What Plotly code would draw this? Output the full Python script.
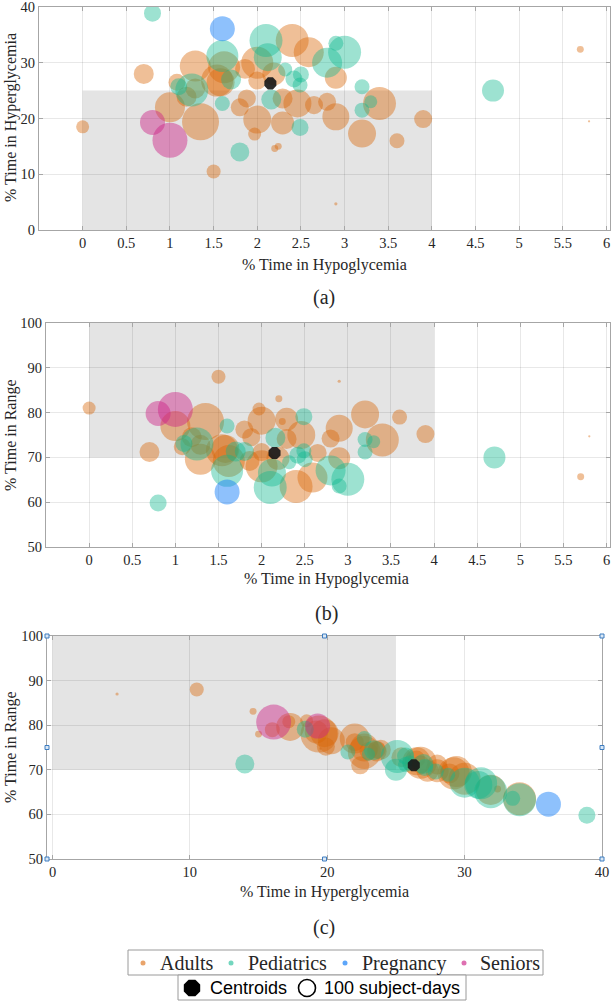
import plotly.graph_objects as go

W, H = 612, 1003

# ---------------- data ----------------
# Adults
adult_hypo = [0.00, 0.70, 1.00, 1.35, 1.29, 1.08, 1.29, 1.19, 1.54, 1.62, 1.58, 1.80, 1.88,
              1.86, 2.00, 2.00, 2.19, 2.00, 1.97, 1.50, 2.20, 2.24, 2.90, 2.29, 2.46, 2.29,
              2.65, 2.80, 2.90, 2.90, 2.40, 2.59, 3.20, 3.40, 3.60, 3.90, 5.70, 5.80]
adult_hyper = [18.5, 28.0, 22.0, 19.4, 29.4, 26.5, 25.4, 23.9, 26.8, 29.2, 26.5, 22.0, 23.6,
               28.9, 30.0, 26.8, 28.0, 19.8, 17.2, 10.5, 14.6, 15.0, 4.7, 23.6, 22.7, 19.2,
               22.4, 23.0, 20.3, 27.3, 34.0, 31.9, 17.3, 22.7, 16.0, 19.9, 32.4, 19.5]
adult_tir = [81.0, 71.2, 77.0, 78.0, 69.6, 72.4, 72.8, 74.5, 71.6, 69.2, 71.9, 76.2, 74.5,
             69.2, 68.0, 71.2, 69.8, 78.2, 80.8, 88.0, 83.1, 78.0, 87.0, 74.1, 75.0, 78.5,
             71.0, 74.2, 76.5, 69.8, 63.5, 65.5, 79.6, 73.9, 79.0, 75.2, 65.7, 74.7]
adult_days = [66, 156, 352, 535, 375, 113, 156, 156, 400, 400, 306, 127, 127,
              156, 400, 127, 207, 306, 66, 77, 19, 19, 4, 156, 306, 207,
              127, 127, 285, 189, 425, 352, 306, 425, 88, 127, 19, 2]

# Pediatrics
ped_hypo = [0.80, 1.60, 2.10, 2.12, 2.90, 3.00, 2.80, 1.70, 2.32, 2.42, 2.50, 2.49, 1.25,
            1.10, 1.60, 1.80, 2.16, 2.49, 3.20, 3.20, 3.30, 4.70]
ped_hyper = [38.9, 31.2, 34.0, 31.0, 33.5, 31.9, 30.0, 27.0, 28.8, 27.1, 27.9, 26.0, 25.1,
             25.7, 22.7, 14.0, 23.4, 18.4, 25.7, 21.5, 23.0, 25.0]
ped_tir = [59.8, 67.0, 63.3, 66.6, 63.6, 65.1, 67.1, 71.3, 68.9, 70.5, 69.6, 71.5, 73.0,
           73.1, 77.0, 71.3, 74.4, 79.1, 71.2, 74.0, 73.5, 70.0]
ped_days = [113, 400, 425, 306, 88, 425, 352, 156, 77, 113, 100, 88, 425,
            113, 88, 141, 156, 113, 88, 88, 66, 189]

# Pregnancy
preg_hypo = [1.60]
preg_hyper = [36.1]
preg_tir = [62.3]
preg_days = [244]

# Seniors
sen_hypo = [0.80, 1.00]
sen_hyper = [19.3, 16.1]
sen_tir = [79.8, 80.7]
sen_days = [244, 478]

# Centroid of all studies
cen_hypo = [2.15]
cen_hyper = [26.3]
cen_tir = [71.0]

# Target zones
HYPO_TARGET = 4
HYPER_TARGET = 25
TIR_TARGET = 70

# Tick labels
hypo_ticks = [0, 0.5, 1, 1.5, 2, 2.5, 3, 3.5, 4, 4.5, 5, 5.5, 6]
hyper_ticks_a = [0, 10, 20, 30, 40]
tir_ticks = [50, 60, 70, 80, 90, 100]
hyper_ticks_c = [0, 10, 20, 30, 40]

group_names = ["Adults", "Pediatrics", "Pregnancy", "Seniors"]
group_colors = ["rgba(218,103,8,0.60)", "rgba(14,184,143,0.58)",
                "rgba(24,128,248,0.70)", "rgba(205,35,135,0.65)"]
groups = [
    dict(hypo=adult_hypo, hyper=adult_hyper, tir=adult_tir, days=adult_days),
    dict(hypo=ped_hypo, hyper=ped_hyper, tir=ped_tir, days=ped_days),
    dict(hypo=preg_hypo, hyper=preg_hyper, tir=preg_tir, days=preg_days),
    dict(hypo=sen_hypo, hyper=sen_hyper, tir=sen_tir, days=sen_days),
]
centroid = dict(hypo=cen_hypo, hyper=cen_hyper, tir=cen_tir)

REF_DAYS = 100
REF_DIAM = 16
SIZEREF = 2.0 * REF_DAYS / REF_DIAM ** 2

SERIF = "Liberation Serif, Times New Roman, serif"
SANS = "Liberation Sans, Arial, sans-serif"
TXT = "#262626"

fig = go.Figure()

panels = [("x", "y", "hypo", "hyper"), ("x2", "y2", "hypo", "tir"), ("x3", "y3", "hyper", "tir")]
for xa, ya, kx, ky in panels:
    for name, g, col in zip(group_names, groups, group_colors):
        fig.add_trace(go.Scatter(
            x=g[kx], y=g[ky], mode="markers", xaxis=xa, yaxis=ya, name=name,
            marker=dict(size=g["days"], sizemode="area", sizeref=SIZEREF,
                        color=col, line=dict(width=0)),
            showlegend=False, hoverinfo="skip"))
    fig.add_trace(go.Scatter(
        x=centroid[kx], y=centroid[ky], mode="markers", xaxis=xa, yaxis=ya, name="Centroids",
        marker=dict(size=13, symbol="octagon", color="rgba(25,25,25,0.92)", line=dict(width=0)),
        showlegend=False, hoverinfo="skip"))


def px_dom(a, b):
    return [a / W, b / W]


def py_dom(top, bottom):
    return [1 - bottom / H, 1 - top / H]


axis_common = dict(
    showgrid=True, gridcolor="rgba(0,0,0,0.09)", gridwidth=1,
    showline=True, linecolor="#a6a6a6", linewidth=1, mirror="ticks",
    ticks="inside", ticklen=4, tickcolor="#a6a6a6", automargin=False,
    zeroline=False, tickfont=dict(family=SERIF, size=14.5, color=TXT),
    ticklabeloverflow="allow",
)

fig.update_layout(
    width=W, height=H, margin=dict(l=0, r=0, t=0, b=0, autoexpand=False),
    template="none",
    paper_bgcolor="white", plot_bgcolor="white", showlegend=False,
    xaxis=dict(domain=px_dom(39, 610), range=[-0.5, 6.04], tickvals=hypo_ticks, anchor="y", **axis_common),
    yaxis=dict(domain=py_dom(7, 230), range=[0, 40], tickvals=hyper_ticks_a, anchor="x", **axis_common),
    xaxis2=dict(domain=px_dom(46, 610), range=[-0.5, 6.04], tickvals=hypo_ticks, anchor="y2", **axis_common),
    yaxis2=dict(domain=py_dom(323, 547), range=[50, 100], tickvals=tir_ticks, anchor="x2", **axis_common),
    xaxis3=dict(domain=px_dom(47, 602), range=[-0.4, 40], tickvals=hyper_ticks_c, anchor="y3", **axis_common),
    yaxis3=dict(domain=py_dom(636, 859), range=[50, 100], tickvals=tir_ticks, anchor="x3", **axis_common),
)

# target zone rectangles
zones = [
    dict(xref="x", yref="y", x0=0, x1=HYPO_TARGET, y0=0, y1=HYPER_TARGET),
    dict(xref="x2", yref="y2", x0=0, x1=HYPO_TARGET, y0=TIR_TARGET, y1=100),
    dict(xref="x3", yref="y3", x0=0, x1=HYPER_TARGET, y0=TIR_TARGET, y1=100),
]
for s in zones:
    fig.add_shape(type="rect", fillcolor="#e4e4e4", line=dict(width=0), layer="below", **s)

# selection handles on panel (c)
for fx, fy in [(0, 0), (0.5, 0), (1, 0), (0, 0.5), (1, 0.5), (0, 1), (0.5, 1), (1, 1)]:
    fig.add_shape(type="rect", xref="x3 domain", yref="y3 domain",
                  xsizemode="pixel", ysizemode="pixel", xanchor=fx, yanchor=fy,
                  x0=-2, x1=2, y0=-2, y1=2,
                  fillcolor="#dbe8f5", line=dict(color="#3d7cc0", width=1), layer="above")

ann = []


def add_text(text, xpx, ypx, size, angle=0, family=SERIF, xanchor="center", color=TXT):
    ann.append(dict(text=text, x=xpx / W, y=1 - ypx / H, xref="paper", yref="paper",
                    showarrow=False, xanchor=xanchor, yanchor="middle", textangle=angle,
                    font=dict(family=family, size=size, color=color)))


add_text("% Time in Hyperglycemia", 11, 118, 16, -90)
add_text("% Time in Hypoglycemia", 324, 265, 16)
add_text("(a)", 324, 297, 20)
add_text("% Time in Range", 11, 435, 16, -90)
add_text("% Time in Hypoglycemia", 326, 579, 16)
add_text("(b)", 326, 613, 20)
add_text("% Time in Range", 11, 747, 16, -90)
add_text("% Time in Hyperglycemia", 324, 892, 16)
add_text("(c)", 324, 927, 20)


# ---- legend boxes (drawn by hand to match the compact MATLAB legend) ----
def paper_rect(x0, x1, top, bottom, **kw):
    fig.add_shape(type="rect", xref="paper", yref="paper",
                  x0=x0 / W, x1=x1 / W, y0=1 - bottom / H, y1=1 - top / H, **kw)


paper_rect(128, 543, 950, 975, fillcolor="white", line=dict(color="#9a9a9a", width=1))
paper_rect(178, 466, 975, 1000, fillcolor="white", line=dict(color="#9a9a9a", width=1))

legend1_dot_x = [143, 231, 345, 464]
legend1_text_x = [158, 246, 360, 478]
for name, col, dx, tx in zip(group_names, group_colors, legend1_dot_x, legend1_text_x):
    fig.add_shape(type="circle", xref="paper", yref="paper", xsizemode="pixel", ysizemode="pixel",
                  xanchor=dx / W, yanchor=1 - 963 / H, x0=-2.5, x1=2.5, y0=-2.5, y1=2.5,
                  fillcolor=col, line=dict(width=0))
    add_text(name, tx, 963, 20, xanchor="left")

# Centroid octagon symbol
oct_pts = [(-3.4, -8.2), (3.4, -8.2), (8.2, -3.4), (8.2, 3.4), (3.4, 8.2), (-3.4, 8.2), (-8.2, 3.4), (-8.2, -3.4)]
oct_path = "M " + " L ".join(f"{a},{b}" for a, b in oct_pts) + " Z"
fig.add_shape(type="path", xref="paper", yref="paper", xsizemode="pixel", ysizemode="pixel",
              xanchor=192 / W, yanchor=1 - 988 / H, path=oct_path,
              fillcolor="black", line=dict(width=0))
add_text("Centroids", 208, 988, 18, family=SANS, xanchor="left", color="black")
fig.add_shape(type="circle", xref="paper", yref="paper", xsizemode="pixel", ysizemode="pixel",
              xanchor=307 / W, yanchor=1 - 988 / H, x0=-8.5, x1=8.5, y0=-8.5, y1=8.5,
              fillcolor="rgba(0,0,0,0)", line=dict(color="black", width=1.6))
add_text("100 subject-days", 322, 988, 18, family=SANS, xanchor="left", color="black")

fig.update_layout(annotations=ann)

fig.write_html("out.html", config={"displayModeBar": False},
               post_script="document.body.style.margin='0';document.body.style.overflow='hidden';")
